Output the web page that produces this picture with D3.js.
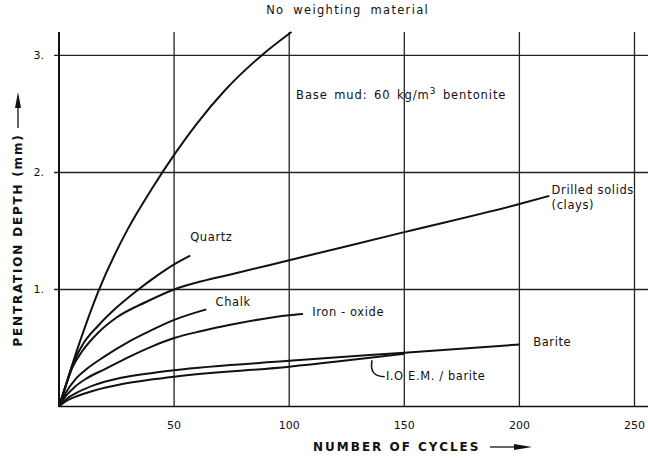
<!DOCTYPE html>
<html>
<head>
<meta charset="utf-8">
<script src="https://cdn.jsdelivr.net/npm/d3@7"></script>
<style>
  body { margin: 0; background: #fff; }
  text { font-family: "DejaVu Sans", sans-serif; fill: #111; }
</style>
</head>
<body>
<svg id="chart"></svg>
<script>
const width = 648;
const height = 459;

// values (cycles, depth in mm)
const noWeighting = [[0, 0], [4, 0.25], [9, 0.55], [17, 0.98], [30, 1.52], [40, 1.85], [50, 2.15], [60, 2.42], [72, 2.7], [88, 3.0], [101, 3.2]];
const quartz = [[0, 0], [3, 0.18], [6, 0.36], [10, 0.52], [17, 0.69], [25, 0.845], [34.5, 1.0], [42, 1.11], [50, 1.215], [57, 1.29]];
const drilled = [[0, 0], [3, 0.18], [6, 0.34], [10, 0.47], [17, 0.63], [25, 0.76], [38, 0.895], [50, 1.0], [62, 1.07], [75, 1.13], [100, 1.25], [150, 1.49], [200, 1.73], [213, 1.8]];
const chalk = [[0, 0], [3, 0.12], [7, 0.23], [12, 0.32], [20, 0.43], [30, 0.55], [40, 0.65], [50, 0.74], [64, 0.83]];
const ironOxide = [[0, 0], [3, 0.09], [7, 0.17], [12, 0.24], [20, 0.32], [30, 0.42], [40, 0.51], [50, 0.585], [62, 0.645], [75, 0.7], [100, 0.78], [106, 0.79]];
const barite = [[0, 0], [3, 0.06], [8, 0.12], [15, 0.18], [27, 0.245], [40, 0.285], [50, 0.31], [100, 0.39], [150, 0.46], [200, 0.53]];
const ioem = [[0, 0], [3, 0.045], [8, 0.09], [15, 0.135], [27, 0.19], [40, 0.23], [50, 0.255], [100, 0.34], [150, 0.45]];

const xTicks = [50, 100, 150, 200, 250];
const yTicks = [1, 2, 3];

const curveLabels = [
  {text: "Quartz", x: 57, y: 1.41},
  {text: "Chalk", x: 68, y: 0.86},
  {text: "Iron - oxide", x: 110, y: 0.77},
  {text: "Barite", x: 206, y: 0.52},
  {text: "I.O E.M. / barite", x: 142, y: 0.225},
  {text: "Drilled solids", x: 214, y: 1.82},
  {text: "(clays)", x: 214, y: 1.69}
];

const svg = d3.select("#chart")
              .attr("width", width)
              .attr("height", height);

const x = d3.scaleLinear().domain([0, 256]).range([59, 648.3]);
const y = d3.scaleLinear().domain([0, 3.2]).range([406.5, 32]);

// graph paper grid
svg.append("g")
   .selectAll("line")
   .data(xTicks)
   .enter()
   .append("line")
   .attr("x1", d => x(d)).attr("x2", d => x(d))
   .attr("y1", y(3.2)).attr("y2", y(0))
   .style("stroke", "#222")
   .style("stroke-width", 1.3);

svg.append("g")
   .selectAll("line")
   .data(yTicks)
   .enter()
   .append("line")
   .attr("x1", x(0) - 5).attr("x2", width)
   .attr("y1", d => y(d)).attr("y2", d => y(d))
   .style("stroke", "#222")
   .style("stroke-width", 1.4);

// axes
svg.append("line")
   .attr("x1", x(0)).attr("x2", x(0))
   .attr("y1", y(3.2)).attr("y2", y(0))
   .style("stroke", "#111").style("stroke-width", 2);
svg.append("line")
   .attr("x1", x(0)).attr("x2", width)
   .attr("y1", y(0)).attr("y2", y(0))
   .style("stroke", "#111").style("stroke-width", 1.6);

svg.append("g")
   .selectAll("text")
   .data(xTicks)
   .enter()
   .append("text")
   .attr("x", d => x(d))
   .attr("y", 429)
   .attr("text-anchor", "middle")
   .style("font-size", "11px")
   .text(d => d);

svg.append("g")
   .selectAll("text")
   .data(yTicks)
   .enter()
   .append("text")
   .attr("x", 44)
   .attr("y", d => y(d) + 4)
   .attr("text-anchor", "end")
   .style("font-size", "11px")
   .text(d => d + ".");

// curves
const line = d3.line()
               .x(d => x(d[0]))
               .y(d => y(d[1]))
               .curve(d3.curveMonotoneX);

svg.append("g")
   .selectAll("path")
   .data([noWeighting, quartz, drilled, chalk, ironOxide, barite, ioem])
   .enter()
   .append("path")
   .attr("d", line)
   .style("fill", "none")
   .style("stroke", "#111")
   .style("stroke-width", 2);

// labels
svg.append("g")
   .selectAll("text")
   .data(curveLabels)
   .enter()
   .append("text")
   .attr("x", d => x(d.x))
   .attr("y", d => y(d.y))
   .style("font-size", "11.5px")
   .style("letter-spacing", "0.6px")
   .text(d => d.text);

svg.append("text")
   .attr("x", x(90))
   .attr("y", y(3.35))
   .style("font-size", "11.5px")
   .style("letter-spacing", "1.3px")
   .style("word-spacing", "4px")
   .text("No weighting material");

const base = svg.append("text")
                .attr("x", x(103))
                .attr("y", y(2.63))
                .style("font-size", "11.5px")
                .style("letter-spacing", "0.9px")
                .style("word-spacing", "2px");
base.append("tspan").text("Base mud: 60 kg/m");
base.append("tspan").attr("dy", -5).style("font-size", "9px").text("3");
base.append("tspan").attr("dy", 5).text(" bentonite");

// leader for I.O.E.M. label
svg.append("path")
   .attr("d", `M${x(136)},${y(0.395)} C${x(135)},${y(0.3)} ${x(137)},${y(0.255)} ${x(141.5)},${y(0.255)}`)
   .style("fill", "none")
   .style("stroke", "#111")
   .style("stroke-width", 1.5);

// axis titles
svg.append("text")
   .attr("x", 313)
   .attr("y", 451)
   .style("font-size", "12px")
   .style("font-weight", "bold")
   .style("letter-spacing", "2px")
   .text("NUMBER OF CYCLES");
svg.append("line")
   .attr("x1", 490).attr("x2", 520)
   .attr("y1", 447).attr("y2", 447)
   .style("stroke", "#111").style("stroke-width", 1.3);
svg.append("path")
   .attr("d", "M514,444 L532,447 L514,450 Z")
   .style("fill", "#111");

const yTitle = svg.append("g")
                  .attr("transform", "translate(22,240) rotate(-90)");
yTitle.append("text")
      .attr("text-anchor", "middle")
      .style("font-size", "12px")
      .style("font-weight", "bold")
      .style("letter-spacing", "1.8px")
      .text("PENTRATION DEPTH (mm)");
yTitle.append("line")
      .attr("x1", 112).attr("x2", 140)
      .attr("y1", -4).attr("y2", -4)
      .style("stroke", "#111").style("stroke-width", 1.3);
yTitle.append("path")
      .attr("d", "M132,-7 L148,-4 L132,-1 Z")
      .style("fill", "#111");
</script>
</body>
</html>
